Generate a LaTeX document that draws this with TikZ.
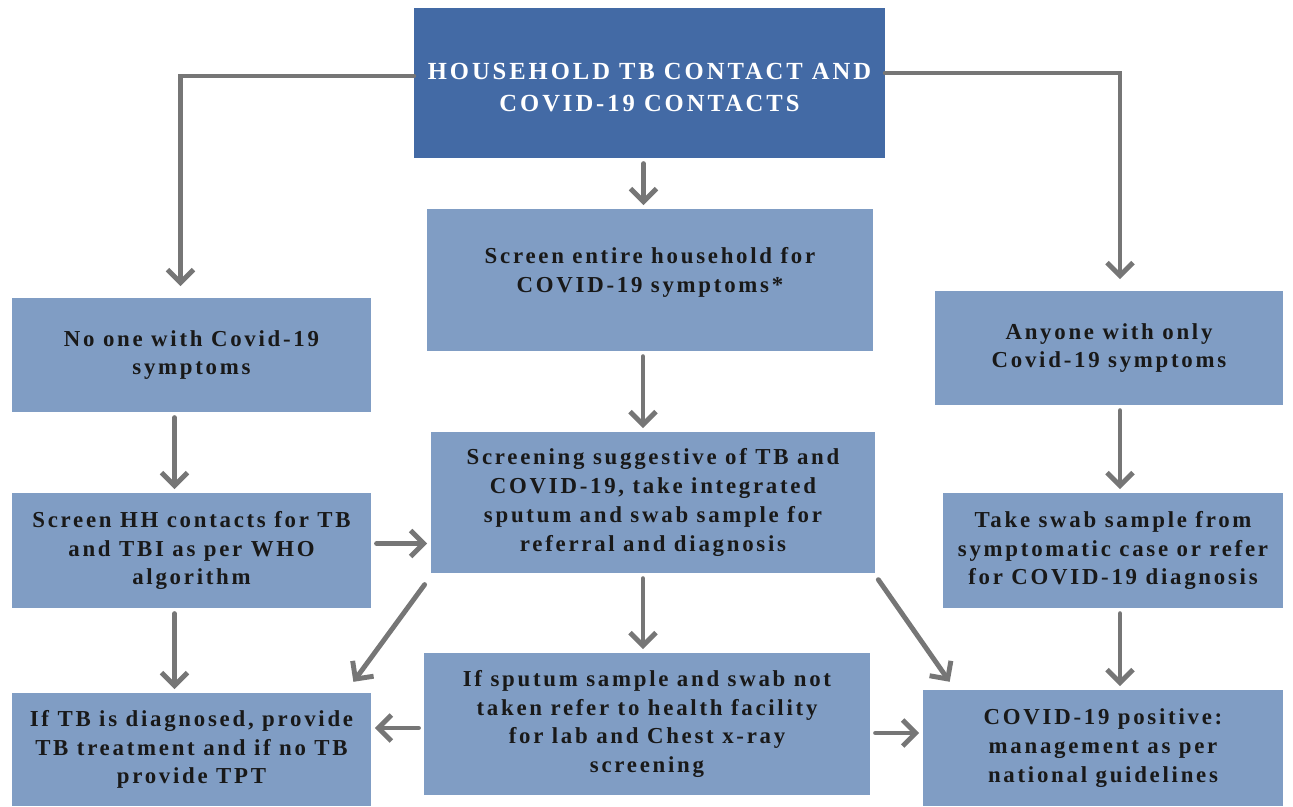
\documentclass[tikz,border=0pt]{standalone}
\usepackage{fontspec}
\setmainfont{Liberation Serif}[LetterSpace=12]
\usetikzlibrary{arrows.meta,calc}

\definecolor{hhBlue}{RGB}{67,106,165}
\definecolor{boxBlue}{RGB}{128,157,196}
\definecolor{arrGray}{RGB}{118,118,118}

\begin{document}
\begin{tikzpicture}[x=0.02cm, y=-0.02cm,
    main/.style={rectangle, fill=boxBlue, inner sep=0pt, align=center,
        text=black!90, font=\fontsize{13}{16.4}\selectfont\bfseries},
    head/.style={main, fill=hhBlue, text=white,
        font=\fontsize{14}{18.2}\selectfont\bfseries\addfontfeatures{LetterSpace=12}},
    arr/.style={draw=arrGray, line width=2.8pt, line cap=round,
        -{Straight Barb[length=2.6mm, width=5.2mm]},
        shorten <=3pt, shorten >=2pt}]
            \useasboundingbox (0,0) rectangle (1293,806);

            \node[head, minimum width=9.42cm, minimum height=3cm] at (649.5, 83) (hh) {~\\[-4pt]HOUSEHOLD TB CONTACT AND\\COVID-19 CONTACTS};
            \node[main, minimum width=8.92cm, minimum height=2.84cm] at (650, 280) (screen) {Screen entire household for\\COVID-19 symptoms*\\[-5pt]~};

            \node[main, minimum width=7.18cm, minimum height=2.28cm] at (191.5, 355) (noSym) {No one with Covid-19\\symptoms};
            \node[main, minimum width=7.18cm, minimum height=2.3cm] at (191.5, 550.5) (hhScreen) {Screen HH contacts for TB\\and TBI as per WHO\\algorithm};
            \node[main, minimum width=7.18cm, minimum height=2.26cm] at (191.5, 749.5) (tbTx) {If TB is diagnosed, provide\\TB treatment and if no TB\\provide TPT};

            \node[main, minimum width=8.88cm, minimum height=2.82cm] at (653, 502.5) (suggest) {Screening suggestive of TB and\\COVID-19, take integrated\\sputum and swab sample for\\referral and diagnosis};
            \node[main, minimum width=8.92cm, minimum height=2.84cm] at (647, 724) (refer) {If sputum sample and swab not\\taken refer to health facility\\for lab and Chest x-ray\\screening};

            \node[main, minimum width=6.96cm, minimum height=2.28cm] at (1109, 348) (onlySym) {Anyone with only\\Covid-19 symptoms};
            \node[main, minimum width=6.8cm, minimum height=2.3cm] at (1113, 550.5) (swab) {Take swab sample from\\symptomatic case or refer\\for COVID-19 diagnosis};
            \node[main, minimum width=7.2cm, minimum height=2.32cm] at (1103, 748) (covPos) {COVID-19 positive:\\management as per\\national guidelines};

            % from the household box
            \draw[arr, shorten <=0pt] ([shift={(0,-7)}]hh.west) -| ([shift={(-11,-8)}]noSym.north);
            \draw[arr, shorten <=0pt] ([shift={(0,-10)}]hh.east) -| ([shift={(11,-8)}]onlySym.north);
            \draw[arr] ([shift={(-6,0)}]hh.south) -- ([shift={(-6,0)}]hh.south |- screen.north);
            \draw[arr] ([shift={(-7,0)}]screen.south) -- ([shift={(-7,0)}]screen.south |- suggest.north);

            % left column
            \draw[arr] ([shift={(-17,0)}]noSym.south) -- ([shift={(-17,0)}]hhScreen.north);
            \draw[arr] ([shift={(-17,0)}]hhScreen.south) -- ([shift={(-17,0)}]tbTx.north);
            \draw[arr] ([shift={(0,-7)}]hhScreen.east) -- ([shift={(0,-7)}]hhScreen.east -| suggest.west);

            % right column
            \draw[arr] ([shift={(11,0)}]onlySym.south) -- ([shift={(11,0)}]onlySym.south |- swab.north);
            \draw[arr] ([shift={(7,0)}]swab.south) -- ([shift={(7,0)}]swab.south |- covPos.north);

            % out of the integrated screening
            \draw[arr] ([shift={(-10,0)}]suggest.south) -- ([shift={(-10,0)}]suggest.south |- refer.north);
            \draw[arr] ([shift={(-3,7)}]suggest.south west) -- ([shift={(-20,-8)}]tbTx.north east);
            \draw[arr] ([shift={(0,2)}]suggest.south east) -- ([shift={(29,-5)}]covPos.north west);

            \draw[arr] ([shift={(0,4)}]refer.west) -- ([shift={(0,4)}]refer.west -| tbTx.east);
            \draw[arr] ([shift={(0,9)}]refer.east) -- ([shift={(0,9)}]refer.east -| covPos.west);
        \end{tikzpicture}
\end{document}
